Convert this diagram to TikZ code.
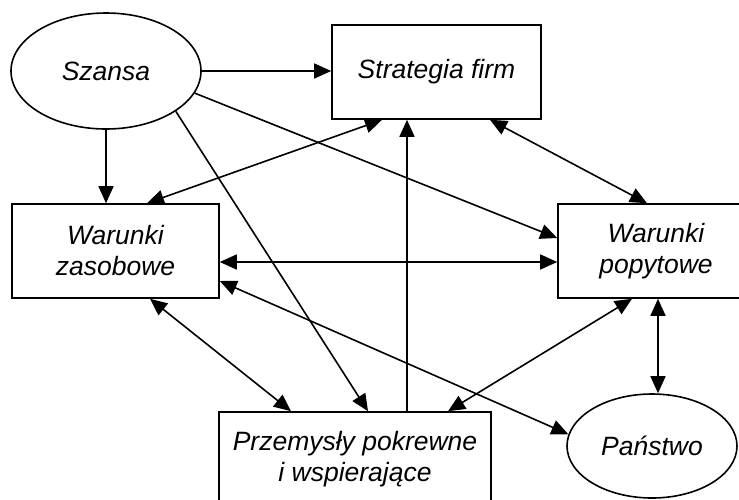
\documentclass[tikz,border=0pt]{standalone}
\usepackage{fontspec}
\setmainfont{Liberation Sans}
\usetikzlibrary{arrows.meta,shapes.geometric}
\begin{document}
\begin{tikzpicture}[x=1pt,y=-1pt,
  txt/.style={inner sep=0pt, align=center, font=\itshape\fontsize{26.5}{31}\selectfont},
  box/.style={txt, draw, line width=1.6pt, rectangle, minimum height=94pt},
  oval/.style={txt, draw, line width=1.6pt, ellipse},
  tip/.tip={Triangle[length=17pt,width=15pt]},
  link/.style={line width=1.6pt, -tip},
  both/.style={line width=1.6pt, tip-tip}]
\clip (0,0) rectangle (739,499);
\fill[white] (0,0) rectangle (739,499);

% factors
\node[oval, minimum width=190pt, minimum height=116pt] (szansa) at (106,71) {Szansa};
\node[box, minimum width=209pt] (strat) at (436.5,72) {Strategia firm};
\node[box, minimum width=207pt] (zas) at (115.5,251) {Warunki\\zasobowe};
\node[box, minimum width=196pt] (pop) at (656,251) {Warunki\\popytowe};
\node[box, minimum width=272pt] (prz) at (355,459) {Przemysły pokrewne\\i wspierające};
\node[oval, minimum width=170pt, minimum height=104pt] (pan) at (652,446) {Państwo};

% influence of chance
\draw[link] (szansa.east) -- (szansa.east -| strat.west);
\draw[link] (szansa.south) -- (szansa.south |- zas.north);
\draw[link] (szansa.-14.5) -- ([yshift=13pt]pop.west);
\draw[link] (szansa.-30) -- ([xshift=13pt]prz.north);

% links around the firm strategy
\draw[both] ([xshift=-54.5pt]strat.south) -- ([xshift=31.5pt]zas.north);
\draw[link] ([xshift=52pt]prz.north) -- ([xshift=52pt]prz.north |- strat.south);
\draw[both] ([xshift=53.5pt]strat.south) -- ([xshift=-9pt]pop.north);

% mutual links between the conditions
\draw[both] ([yshift=-11pt]zas.east) -- ([yshift=-11pt]pop.west);
\draw[both] ([yshift=-30pt]zas.east) -- (pan.172);
\draw[both] ([xshift=34.5pt]zas.south) -- ([xshift=-64pt]prz.north);
\draw[both] ([xshift=-24pt]pop.south) -- ([xshift=93pt]prz.north);
\draw[both] ([xshift=2pt]pop.south) -- ([xshift=2pt]pop.south |- pan.north);
\end{tikzpicture}
\end{document}
